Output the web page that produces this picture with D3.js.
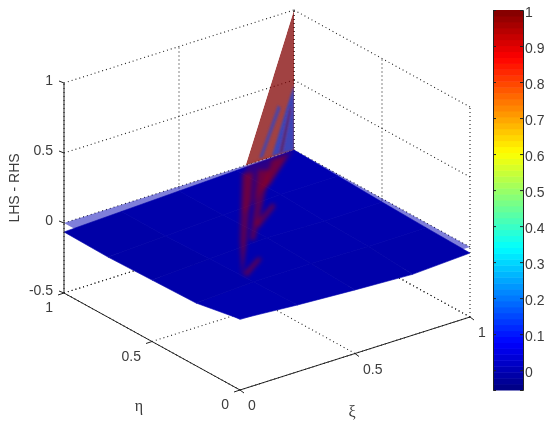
<!DOCTYPE html>
<html>
<head>
<meta charset="utf-8">
<script src="https://cdnjs.cloudflare.com/ajax/libs/d3/7.8.5/d3.min.js"></script>
<style>
    html, body { margin: 0; padding: 0; background: #fff; }
    text { font-family: "Liberation Sans", Arial, sans-serif; font-size: 14px; fill: #3c3c3c; }
</style>
</head>
<body>
<div id="graph"></div>
<script>
"use strict";

const xiTicks = [0, 0.5, 1];
const etaTicks = [0, 0.5, 1];
const zTicks = [-0.5, 0, 0.5, 1];
const barTicks = [0, 0.1, 0.2, 0.3, 0.4, 0.5, 0.6, 0.7, 0.8, 0.9, 1];

// opaque sheet, z at grid nodes, rows are eta, columns are xi
const gridXi = [0, 0.25, 0.5, 0.75, 1];
const gridEta = [0, 0.25, 0.5, 0.75, 1];
const sheetZ = [
    [0.007, -0.023, -0.046, -0.065, -0.043],
    [-0.052, -0.03, -0.03, -0.04, -0.035],
    [-0.061, -0.04, -0.02, -0.03, -0.025],
    [-0.07, -0.05, -0.03, -0.015, -0.012],
    [-0.064, -0.048, -0.032, -0.016, 0]
];

// translucent sheet [xi, eta, z]
const planeVerts = [[0, 1, 0], [0, 0, 0], [1, 0, 0], [1, 1, 0]];

// spike on the eta = 1 side, [xi, z]
const spikeRed = [[1, 1], [1, 0], [0.79, 0]];
const spikeBlue1 = [[1, 0.464], [1, 0], [0.904, 0.007], [0.965, 0.304]];
const spikeBlue2 = [[0.93, 0.358], [0.943, 0.33], [0.865, 0.02], [0.848, 0.022]];
const spikeRedStripe = [[0.983, 0.33], [0.987, 0.279], [0.952, 0.011], [0.935, 0.012]];

// red streaks showing on the sheet, [xi, eta]
const streakWedge = [[0.79, 1], [1, 1], [0.825, 0.874], [0.534, 0.681]];
const streaks = [
    [[0.741, 0.957], [0.772, 0.935], [0.42, 0.509], [0.221, 0.277], [0.4, 0.523]],
    [[0.801, 0.944], [0.834, 0.919], [0.442, 0.492], [0.428, 0.503]],
    [[0.244, 0.301], [0.365, 0.375], [0.366, 0.353], [0.235, 0.267]],
    [[0.527, 0.603], [0.674, 0.699], [0.67, 0.671], [0.513, 0.562]],
    [[0.889, 0.98], [0.958, 0.98], [0.759, 0.821], [0.711, 0.805]]
];

const colorMin = -0.055;
const colorMax = 1;
const levels = 64;

(function() {
    const width = 550;
    const height = 425;

    // oblique projection of the box
    const xFromXi = d3.scaleLinear().domain([0, 1]).range([0, 230]);
    const xFromEta = d3.scaleLinear().domain([0, 1]).range([0, -176]);
    const yFromXi = d3.scaleLinear().domain([0, 1]).range([0, -73]);
    const yFromEta = d3.scaleLinear().domain([0, 1]).range([0, -97]);
    const yFromZ = d3.scaleLinear().domain([-0.5, 1]).range([390, 180]);

    function proj(p) {
        return [240 + xFromXi(p[0]) + xFromEta(p[1]), yFromZ(p[2]) + yFromXi(p[0]) + yFromEta(p[1])];
    }

    const line = d3.line();
    const polyPath = (pts) => line(pts.map(proj)) + "Z";

    function jetPart(v) {
        return 255 * Math.max(0, Math.min(1, 1.5 - Math.abs(v)));
    }

    function jet(v) {
        const t = (v - colorMin) / (colorMax - colorMin);
        return d3.rgb(jetPart(4 * t - 3), jetPart(4 * t - 2), jetPart(4 * t - 1));
    }

    const svg = d3.select("#graph").append("svg")
        .attr("width", width)
        .attr("height", height)
        .style("display", "block")
        .style("filter", "blur(0.4px)");

    const defs = svg.append("defs");
    defs.append("filter").attr("id", "soft")
        .append("feGaussianBlur").attr("stdDeviation", 1.3);
    defs.append("filter").attr("id", "softer")
        .append("feGaussianBlur").attr("stdDeviation", 2);
    defs.append("clipPath").attr("id", "spikeClip")
        .append("path").attr("d", polyPath(spikeRed.map((p) => [p[0], 1, p[1]])));

    // dotted grid on floor and back walls
    const gridG = svg.append("g")
        .attr("fill", "none")
        .attr("stroke", "#222")
        .attr("stroke-width", 1.1)
        .attr("stroke-dasharray", "1 3");
    function gridLine(a, b) {
        gridG.append("path").attr("d", line([proj(a), proj(b)]));
    }
    zTicks.forEach((z) => {
        gridLine([0, 1, z], [1, 1, z]);
        gridLine([1, 1, z], [1, 0, z]);
    });
    xiTicks.forEach((x) => {
        gridLine([x, 0, -0.5], [x, 1, -0.5]);
        gridLine([x, 1, -0.5], [x, 1, 1]);
    });
    etaTicks.forEach((e) => {
        gridLine([0, e, -0.5], [1, e, -0.5]);
        gridLine([1, e, -0.5], [1, e, 1]);
    });

    // translucent sheet, then the solid one over it
    svg.append("path")
        .attr("d", polyPath(planeVerts))
        .attr("fill", jet(0))
        .attr("fill-opacity", 0.5);

    const cells = [];
    d3.range(gridEta.length - 1).forEach((j) => {
        d3.range(gridXi.length - 1).forEach((i) => {
            const zs = [sheetZ[j][i], sheetZ[j][i + 1], sheetZ[j + 1][i + 1], sheetZ[j + 1][i]];
            cells.push({
                pts: [
                    [gridXi[i], gridEta[j], zs[0]],
                    [gridXi[i + 1], gridEta[j], zs[1]],
                    [gridXi[i + 1], gridEta[j + 1], zs[2]],
                    [gridXi[i], gridEta[j + 1], zs[3]]
                ],
                z: d3.mean(zs)
            });
        });
    });
    // the shading of the sheet is much flatter than its height
    const sheetColor = (z) => jet(z * 0.25);
    svg.append("g").selectAll("path")
        .data(cells)
        .join("path")
            .attr("d", (d) => polyPath(d.pts))
            .attr("fill", (d) => sheetColor(d.z))
            .attr("stroke", (d) => sheetColor(d.z))
            .attr("stroke-width", 0.6);

    // streaks lying on the sheet
    const toSheet = (pts) => polyPath(pts.map((p) => [p[0], p[1], 0]));
    const streakG = svg.append("g").attr("filter", "url(#softer)");
    streakG.append("path")
        .attr("d", toSheet(streakWedge))
        .attr("fill", jet(0.95))
        .attr("fill-opacity", 0.25);
    streakG.selectAll("path.streak")
        .data(streaks)
        .join("path")
            .attr("class", "streak")
            .attr("d", toSheet)
            .attr("fill", jet(0.95))
            .attr("fill-opacity", 0.5);

    // the spike
    const onWall = (pts) => polyPath(pts.map((p) => [p[0], 1, p[1]]));
    const spikeG = svg.append("g").attr("clip-path", "url(#spikeClip)");
    spikeG.append("path").attr("d", onWall(spikeRed))
        .attr("fill", jet(1)).attr("fill-opacity", 0.74);
    const spikeSoft = spikeG.append("g").attr("filter", "url(#soft)");
    spikeSoft.append("path").attr("d", onWall(spikeBlue1))
        .attr("fill", jet(0.15)).attr("fill-opacity", 0.62);
    spikeSoft.append("path").attr("d", onWall(spikeBlue2))
        .attr("fill", jet(0.15)).attr("fill-opacity", 0.5);
    spikeSoft.append("path").attr("d", onWall(spikeRedStripe))
        .attr("fill", jet(1)).attr("fill-opacity", 0.4);

    // box axes
    const axisG = svg.append("g").attr("fill", "none").attr("stroke", "#222");
    axisG.append("path").attr("d", line([proj([0, 1, 1]), proj([0, 1, -0.5])]));
    axisG.append("path").attr("d", line([proj([0, 1, -0.5]), proj([0, 0, -0.5]), proj([1, 0, -0.5])]));

    zTicks.forEach((z) => {
        const p = proj([0, 1, z]);
        axisG.append("path").attr("d", line([p, [p[0] - 5, p[1] - 2]]));
        svg.append("text").attr("x", p[0] - 11).attr("y", p[1] + 2)
            .attr("text-anchor", "end").text(z);
    });
    etaTicks.forEach((e) => {
        const p = proj([0, e, -0.5]);
        axisG.append("path").attr("d", line([p, [p[0] - 6, p[1] + 2]]));
        svg.append("text").attr("x", p[0] - 11).attr("y", p[1] + 19)
            .attr("text-anchor", "end").text(e);
    });
    xiTicks.forEach((x) => {
        const p = proj([x, 0, -0.5]);
        axisG.append("path").attr("d", line([p, [p[0] + 4, p[1] + 3]]));
        svg.append("text").attr("x", p[0] + 8).attr("y", p[1] + 20).text(x);
    });

    svg.append("text")
        .attr("transform", "translate(19,188) rotate(-90)")
        .attr("text-anchor", "middle")
        .text("LHS - RHS");
    svg.append("text").attr("x", 139).attr("y", 411)
        .attr("text-anchor", "middle")
        .style("font-family", "'Liberation Serif', serif")
        .style("font-size", "16px")
        .text("η");
    svg.append("text").attr("x", 352).attr("y", 417)
        .attr("text-anchor", "middle")
        .style("font-family", "'Liberation Serif', serif")
        .style("font-size", "16px")
        .text("ξ");

    // colorbar
    const barLeft = 493;
    const barRight = 523;
    const barY = d3.scaleLinear().domain([colorMin, colorMax]).range([390, 10]);
    const barStep = (colorMax - colorMin) / levels;
    const barG = svg.append("g");
    barG.selectAll("rect")
        .data(d3.range(levels))
        .join("rect")
            .attr("x", barLeft)
            .attr("width", barRight - barLeft)
            .attr("y", (d) => barY(colorMin + (d + 1) * barStep))
            .attr("height", (d) => barY(colorMin + d * barStep) - barY(colorMin + (d + 1) * barStep) + 0.5)
            .attr("fill", (d) => jet(colorMin + (d + 0.5) * barStep));

    const rightAxis = d3.axisRight(barY).tickValues(barTicks).tickFormat(d3.format("~g")).tickSize(-3).tickPadding(2);
    const leftAxis = d3.axisLeft(barY).tickValues(barTicks).tickFormat("").tickSize(-3);
    barG.append("g").attr("transform", "translate(" + barRight + ",0)").call(rightAxis);
    barG.append("g").attr("transform", "translate(" + barLeft + ",0)").call(leftAxis);
    barG.selectAll(".domain").attr("stroke", "#222");
    barG.selectAll(".tick line").attr("stroke", "#222");
    barG.selectAll(".tick text")
        .attr("dy", "0.45em")
        .style("font-size", "14px")
        .style("fill", "#3c3c3c")
        .style("font-family", "'Liberation Sans', Arial, sans-serif");
})();
</script>
</body>
</html>
